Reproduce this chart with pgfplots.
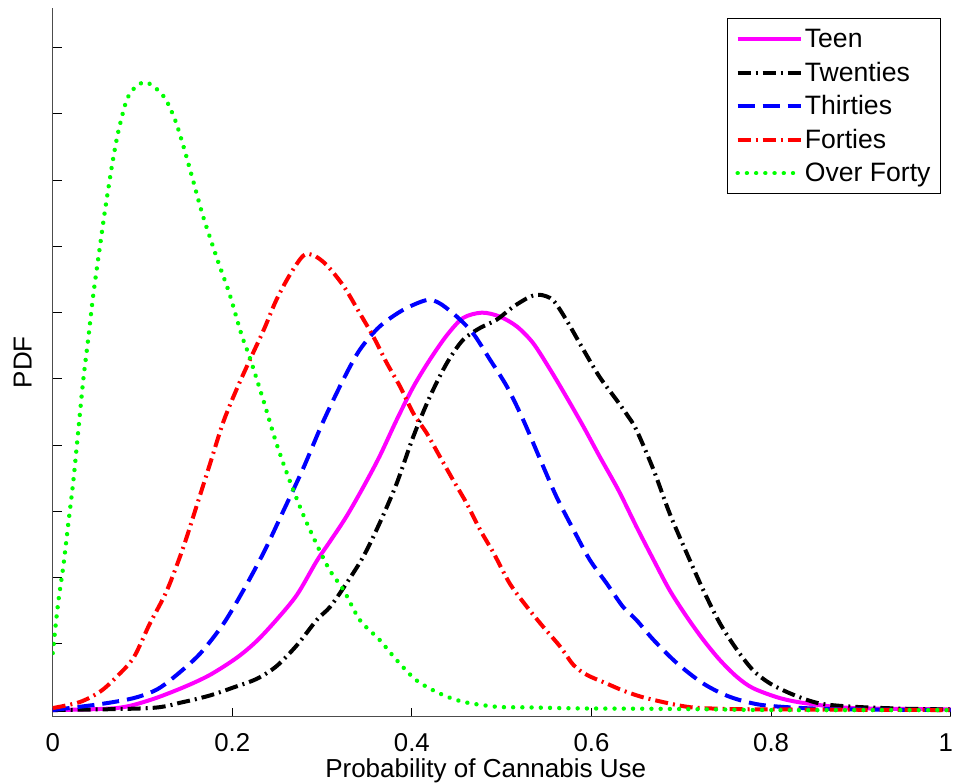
\documentclass[border=0pt]{standalone}
\usepackage{fontspec}
\setmainfont{Liberation Sans}
\usepackage{pgfplots}
\usepackage{pgfplotstable}
\pgfplotsset{compat=1.18}

\definecolor{mtlmagenta}{rgb}{1,0,1}
\definecolor{mtlgreen}{rgb}{0,1,0}
\definecolor{mtlblue}{rgb}{0,0,1}
\definecolor{mtlred}{rgb}{1,0,0}

% KDE curves: x = probability, y = PDF
\pgfplotstableread{
x y
0 0
0.071 0.03
0.108 0.15
0.145 0.34
0.175 0.53
0.205 0.79
0.227 1.04
0.249 1.36
0.272 1.74
0.294 2.25
0.309 2.55
0.327 2.92
0.346 3.37
0.364 3.83
0.383 4.38
0.4016 4.88
0.420 5.29
0.439 5.66
0.457 5.92
0.478 6.00
0.498 5.94
0.517 5.79
0.535 5.54
0.554 5.14
0.572 4.73
0.591 4.28
0.609 3.83
0.630 3.32
0.650 2.77
0.669 2.27
0.687 1.81
0.706 1.41
0.7245 1.06
0.743 0.755
0.762 0.50
0.780 0.33
0.810 0.18
0.840 0.10
0.892 0.03
1.0 0.01
}\teen

\pgfplotstableread{
x y
0 0
0.108 0.03
0.145 0.12
0.175 0.22
0.201 0.34
0.227 0.47
0.249 0.66
0.272 0.98
0.294 1.36
0.309 1.56
0.327 1.91
0.346 2.32
0.364 2.82
0.383 3.42
0.4016 4.13
0.420 4.73
0.439 5.24
0.457 5.59
0.476 5.77
0.494 5.89
0.513 6.09
0.5315 6.24
0.5427 6.27
0.557 6.19
0.572 5.89
0.591 5.44
0.609 5.03
0.628 4.68
0.640 4.45
0.650 4.23
0.669 3.63
0.687 2.97
0.706 2.37
0.7245 1.81
0.743 1.31
0.762 0.91
0.780 0.60
0.799 0.40
0.825 0.23
0.854 0.10
0.892 0.05
0.95 0.02
1.0 0.01
}\twenties

\pgfplotstableread{
x y
0 0
0.053 0.09
0.090 0.18
0.116 0.31
0.138 0.53
0.164 0.85
0.190 1.30
0.212 1.80
0.235 2.38
0.257 3.01
0.279 3.65
0.301 4.35
0.324 5.00
0.342 5.44
0.364 5.79
0.390 6.04
0.4165 6.19
0.431 6.14
0.450 5.94
0.468 5.69
0.487 5.29
0.506 4.88
0.524 4.38
0.543 3.78
0.561 3.22
0.580 2.72
0.598 2.27
0.617 1.91
0.635 1.56
0.650 1.36
0.669 1.06
0.695 0.71
0.7245 0.40
0.754 0.20
0.788 0.08
0.836 0.03
0.89 0.01
1.0 0.0
}\thirties

\pgfplotstableread{
x y
0 0.03
0.030 0.12
0.053 0.28
0.071 0.50
0.090 0.79
0.108 1.30
0.127 1.80
0.145 2.44
0.160 3.07
0.175 3.71
0.190 4.35
0.205 4.85
0.220 5.30
0.235 5.74
0.249 6.19
0.264 6.57
0.279 6.86
0.290 6.87
0.305 6.72
0.324 6.40
0.342 5.99
0.357 5.64
0.372 5.24
0.387 4.88
0.4016 4.48
0.4165 4.18
0.431 3.83
0.446 3.47
0.461 3.12
0.476 2.72
0.491 2.37
0.509 1.91
0.528 1.56
0.546 1.26
0.565 0.96
0.580 0.68
0.595 0.53
0.617 0.40
0.636 0.29
0.661 0.18
0.706 0.05
0.743 0.02
0.8 0.01
1.0 0.0
}\forties

\pgfplotstableread{
x y
0 0.86
0.006 1.61
0.012 2.19
0.0174 2.82
0.023 3.46
0.0285 4.22
0.034 4.98
0.0397 5.62
0.045 6.25
0.0527 7.01
0.058 7.52
0.066 8.22
0.073 8.73
0.0824 9.21
0.0916 9.40
0.102 9.48
0.112 9.42
0.125 9.24
0.136 8.92
0.145 8.54
0.155 8.06
0.166 7.52
0.175 7.14
0.186 6.70
0.197 6.28
0.210 5.68
0.220 5.30
0.235 4.66
0.249 4.03
0.264 3.46
0.279 2.95
0.294 2.50
0.309 2.10
0.324 1.81
0.342 1.36
0.364 1.06
0.383 0.755
0.405 0.45
0.431 0.25
0.457 0.125
0.494 0.05
0.531 0.04
0.587 0.025
0.66 0.02
0.74 0.01
0.8 0.0
1.0 0.0
}\overforty

\begin{document}
\begin{tikzpicture}
\begin{axis}[
    name=ax,
    scale only axis,
    width=449pt, height=354.35pt,
    xmin=0, xmax=1,
    ymin=-0.1, ymax=10.6,
    xtick={0,0.2,0.4,0.6,0.8,1},
    xticklabels={0,0.2,0.4,0.6,0.8,\makebox[0pt]{\hspace{-5pt}1}},
    ytick={0,1,...,10},
    yticklabels={},
    axis x line*=bottom,
    axis y line*=left,
    axis line style={-, draw=black!70, line width=0.6pt},
    tick align=inside,
    major tick length=4.5pt,
    tick style={black, line width=0.5pt},
    ticklabel style={font=\fontsize{12.9}{15}\selectfont},
    xticklabel style={inner sep=0pt, anchor=north, yshift=-8.3pt},
    xlabel={Probability of Cannabis Use},
    ylabel={PDF},
    label style={font=\fontsize{13}{16}\selectfont},
    xlabel style={at={(axis description cs:0.4822,-0.0865)}, anchor=base},
    ylabel style={at={(axis description cs:-0.0234,0.5)}, anchor=base},
    legend style={
        at={(0.9892,0.9859)}, anchor=north east,
        draw=black, line width=0.5pt,
        font=\fontsize{13.3}{15}\selectfont,
        inner xsep=4pt, inner ysep=3.6pt,
        row sep=3.25pt, column sep=0pt,
        nodes={inner sep=1pt, text height=10pt, text depth=1.5pt},
    },
    legend cell align=left,
    legend image code/.code={\draw[#1] (0pt,0pt) -- (31.5pt,0pt);},
]
\addplot[mtlmagenta, line width=2pt, solid, smooth] table {\teen};
\addplot[black, line width=2pt, smooth, dash pattern=on 6.5pt off 2.5pt on 1pt off 2.5pt] table {\twenties};
\addplot[mtlblue, line width=2pt, smooth, dash pattern=on 8.5pt off 4pt] table {\thirties};
\addplot[mtlred, line width=2pt, smooth, dash pattern=on 6.5pt off 2.5pt on 1pt off 2.5pt] table {\forties};
\addplot[mtlgreen, line width=2.2pt, smooth, line cap=round, dash pattern=on 0.01pt off 4.6pt] table {\overforty};
\legend{Teen, Twenties, Thirties, Forties, Over Forty}
\end{axis}
\pgfresetboundingbox
\useasboundingbox ([xshift=-26.35pt,yshift=-33.65pt]ax.south west) rectangle ([xshift=1.15pt,yshift=4pt]ax.north east);
\end{tikzpicture}
\end{document}
